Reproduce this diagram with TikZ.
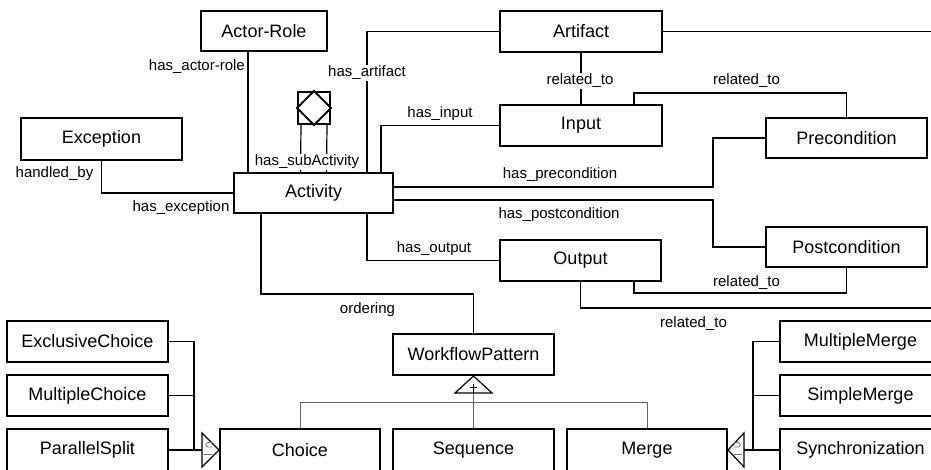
\documentclass[tikz,border=0pt]{standalone}
\usepackage{fontspec}
\setmainfont{Liberation Sans}
\begin{document}
\begin{tikzpicture}[x=1pt,y=-1pt,
  box/.style={draw,line width=2pt,fill=white,inner sep=0pt,font=\fontsize{18}{20}\selectfont},
  conn/.style={line width=1.2pt},
  tree/.style={line width=1pt,black!60},
  lbl/.style={inner sep=1pt,yshift=-2pt,font=\fontsize{15}{17}\selectfont},
  lblw/.style={lbl,fill=white}]
\useasboundingbox (0,0) rectangle (931,469);
\fill[white] (0,0) rectangle (931,469);
\clip (0,0) rectangle (931,469);

% classes
\node[box,minimum width=126pt,minimum height=40pt] (actor) at (264,31) {Actor-Role};
\node[box,minimum width=162pt,minimum height=41pt] (art) at (581,31.5) {Artifact};
\node[box,minimum width=162pt,minimum height=41pt] (inp) at (581,125.5) {Input};
\node[box,minimum width=161pt,minimum height=40pt] (pre) at (846.5,138) {Precondition};
\node[box,minimum width=161pt,minimum height=42pt] (exc) at (101.5,139) {Exception};
\node[box,minimum width=159pt,minimum height=40pt] (act) at (313.5,193) {Activity};
\node[box,minimum width=161pt,minimum height=40pt] (post) at (846.5,247) {Postcondition};
\node[box,minimum width=161pt,minimum height=41pt] (out) at (580.5,260.5) {Output};
\node[box,minimum width=161pt,minimum height=41pt] (wp) at (473.5,354.5) {WorkflowPattern};
\node[box,minimum width=161pt,minimum height=41pt] (xch) at (87.5,341.5) {ExclusiveChoice};
\node[box,minimum width=161pt,minimum height=41pt] (mch) at (87.5,395.5) {MultipleChoice};
\node[box,minimum width=161pt,minimum height=42pt] (psp) at (87.5,450) {ParallelSplit};
\node[box,minimum width=160pt,minimum height=42pt] (cho) at (300,450) {Choice};
\node[box,minimum width=161pt,minimum height=42pt] (seq) at (473.5,450) {Sequence};
\node[box,minimum width=160pt,minimum height=42pt] (mrg) at (647,450) {Merge};
\node[box,minimum width=161pt,minimum height=41pt] (mme) at (860.5,341.5) {MultipleMerge};
\node[box,minimum width=161pt,minimum height=41pt] (sme) at (860.5,395.5) {SimpleMerge};
\node[box,minimum width=161pt,minimum height=42pt] (syn) at (860.5,450) {Synchronization};

% sub-activity aggregation marker
\node[draw,line width=2pt,minimum size=32pt,inner sep=0pt] (sub) at (314,108) {};
\draw[line width=2pt] (sub.north) -- (sub.east) -- (sub.south) -- (sub.west) -- cycle;

% guide coordinates
\coordinate (xa) at (248,0);
\coordinate (xh) at (367,0);
\coordinate (xi) at (381,0);
\coordinate (xp) at (713,0);
\coordinate (xo) at (367,0);
\coordinate (xord) at (261,0);
\coordinate (xr) at (634,0);
\coordinate (re) at (940,0);
\coordinate (y187) at (0,187);
\coordinate (y200) at (0,200);
\coordinate (yord) at (0,294);
\coordinate (yt) at (0,93);
\coordinate (yb) at (0,293);
\coordinate (yo) at (0,308);
\coordinate (ty) at (0,402);
\coordinate (cx) at (194,0);
\coordinate (mx) at (753,0);

% associations
\draw[conn] (actor.south -| xa) -- (act.north -| xa);
\draw[conn] (act.north -| xh) |- (art.west);
\draw[conn] (art.east) -- (art.east -| re);
\draw[conn] ([xshift=-13pt]sub.south) -- ([xshift=-13pt]act.north |- act.north);
\draw[conn] ([xshift=13pt]sub.south) -- ([xshift=13pt]act.north |- act.north);
\draw[conn] (act.north -| xi) |- (inp.west);
\draw[conn] (act.east |- y187) -- (xp |- y187) |- (pre.west);
\draw[conn] (act.east |- y200) -- (xp |- y200) |- (post.west);
\draw[conn] (exc.south) |- (act.west);
\draw[conn] (act.south -| xo) |- (out.west);
\draw[conn] (act.south -| xord) -- (xord |- yord) -| (wp.north);
\draw[conn] (art.south) -- (inp.north);
\draw[conn] (inp.north -| xr) -- (xr |- yt) -- (pre.north |- yt) -- (pre.north);
\draw[conn] (out.south -| xr) -- (xr |- yb) -- (post.south |- yb) -- (post.south);
\draw[conn] (out.south) -- (out.south |- yo) -- (yo -| re);

% generalization of WorkflowPattern
\coordinate (tb) at ([yshift=-17pt]wp.south);
\draw[tree] (tb) -- (seq.north);
\draw[tree] (cho.north) -- (cho.north |- ty) -- (mrg.north |- ty) -- (mrg.north);
\draw[line width=1.2pt,fill=white] (wp.south) -- ++(-18.5,17) -- ++(37,0) -- cycle;
\draw[line width=1pt] ([yshift=-8pt]wp.south) -- (tb);
\draw[line width=1pt] ([shift={(-3.5,11)}]wp.south) -- ++(7,0);

% generalization of Choice
\draw[conn] (xch.east) -- (xch.east -| cx) -- (psp.east -| cx);
\draw[conn] (mch.east) -- (mch.east -| cx);
\draw[conn] (psp.east) -- ([xshift=-17pt]cho.west);
\draw[line width=1.2pt,fill=white] (cho.west) -- ++(-17,-17) -- ++(0,34) -- cycle;
\draw[black!55,line width=0.8pt] ([shift={(-7,-3)}]cho.west) -- ++(-4,0) arc (90:270:2.2) -- ++(4,0);
\draw[black!55,line width=0.8pt] ([shift={(-15,4)}]cho.west) -- ++(8,0);

% generalization of Merge
\draw[conn] (mme.west) -- (mme.west -| mx) -- (syn.west -| mx);
\draw[conn] (sme.west) -- (sme.west -| mx);
\draw[conn] (syn.west) -- ([xshift=16pt]mrg.east);
\draw[line width=1.2pt,fill=white] (mrg.east) -- ++(16,-17) -- ++(0,34) -- cycle;
\draw[black!55,line width=0.8pt] ([shift={(6,-3)}]mrg.east) -- ++(4,0) arc (90:-90:2.2) -- ++(-4,0);
\draw[black!55,line width=0.8pt] ([shift={(6,4)}]mrg.east) -- ++(8,0);

% role labels
\node[lbl,anchor=east] (lar) at (246,65) {has\_actor-role};
\node[lblw] (lha) at (367,71) {has\_artifact};
\node[lblw] (lsa) at (307,160) {has\_subActivity};
\node[lbl] (lhi) at (440,112) {has\_input};
\node[lbl] (lpr) at (560,173) {has\_precondition};
\node[lbl] (lpo) at (559,213) {has\_postcondition};
\node[lbl] (lhb) at (54.5,172) {handled\_by};
\node[lbl] (lhe) at (181,206) {has\_exception};
\node[lbl] (lho) at (434,247) {has\_output};
\node[lbl] (lord) at (367.5,308) {ordering};
\node[lblw] (lr1) at (580,79) {related\_to};
\node[lbl] (lr2) at (746.5,79) {related\_to};
\node[lbl] (lr3) at (746.5,281) {related\_to};
\node[lbl] (lr4) at (693.5,322) {related\_to};
\end{tikzpicture}
\end{document}
